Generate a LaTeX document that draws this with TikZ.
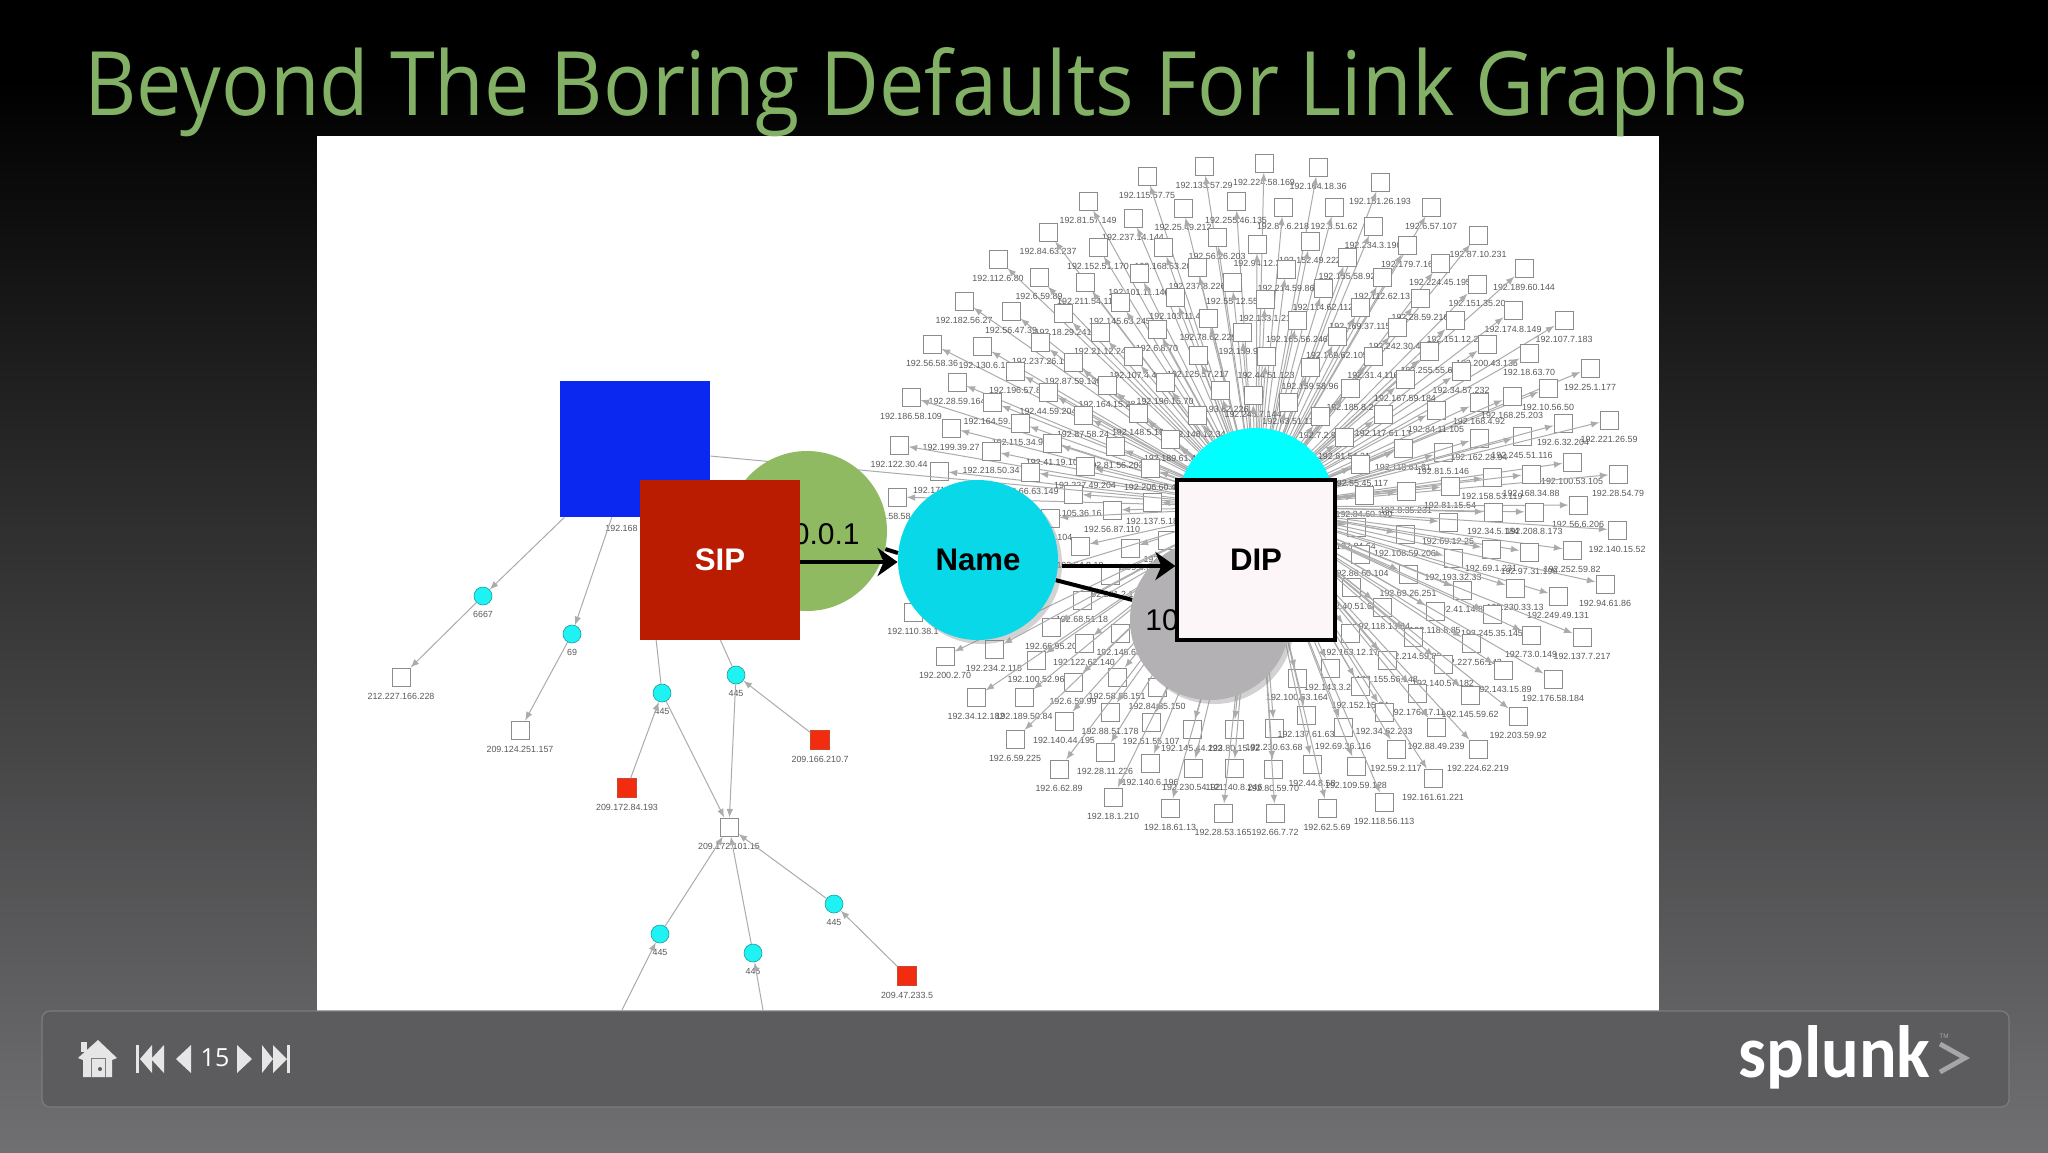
\documentclass[tikz,border=0pt]{standalone}
\usepackage{fontspec}
\usepackage{graphicx}
\setmainfont{Liberation Sans}
\newfontfamily\titlefont{Open Sans}
\newfontfamily\footfont{Open Sans}
\newfontfamily\logofont{Carlito}
\usetikzlibrary{positioning,shadows,arrows.meta}
\definecolor{titlegreen}{HTML}{82B064}
\definecolor{barfill}{HTML}{5C5B5E}
\definecolor{barline}{HTML}{7C7C7E}
\definecolor{pagegrey}{HTML}{707072}
\definecolor{fanline}{HTML}{ABABAB}
\definecolor{fanedge}{HTML}{8C8C8C}
\definecolor{fantext}{HTML}{5A5A5A}
\definecolor{sipred}{HTML}{B91C00}
\definecolor{hotred}{HTML}{F22C0E}
\definecolor{blockblue}{HTML}{0B28F0}
\definecolor{namecyan}{HTML}{08D8E8}
\definecolor{hubcyan}{HTML}{00FFFF}
\definecolor{dotcyan}{HTML}{1FF2F2}
\definecolor{dotedge}{HTML}{1C9C9C}
\definecolor{circgreen}{HTML}{90BA62}
\definecolor{circgrey}{HTML}{B3B1B4}
\definecolor{dipfill}{HTML}{FCF6F9}
\definecolor{navwhite}{HTML}{E6E6E6}
\definecolor{logogrey}{HTML}{A6A6A6}
\tikzset{
  fanbox/.style={draw=fanedge,fill=white,line width=0.5pt,minimum size=9pt,inner sep=0pt},
  fanlabel/.style={text=fantext,font=\fontsize{4.45}{5}\selectfont,inner sep=0pt},
  fanarrow/.style={fanline,line width=0.5pt,-latex},
  hotbox/.style={draw=sipred!80,fill=hotred,line width=0.3pt,minimum size=9.5pt,inner sep=0pt},
  portdot/.style={circle,draw=dotedge,fill=dotcyan,line width=0.3pt,minimum size=9pt,inner sep=0pt},
  bigcirc/.style={circle,minimum size=80pt,inner sep=0pt},
  bigshadow/.style={drop shadow={shadow xshift=2pt,shadow yshift=-2pt,opacity=0.35}},
  bigbox/.style={minimum size=80pt,inner sep=0pt},
  bigtext/.style={font=\fontsize{15.6}{18}\selectfont\bfseries},
  flowarrow/.style={black,line width=2pt,-{Stealth[length=10pt,width=14pt,inset=3pt]}},
  navtip/.style={fill=navwhite,draw=none},
}
\begin{document}
\begin{tikzpicture}[x=0.5pt,y=-0.5pt]
\useasboundingbox (0,0) rectangle (2048,1152);
% page and panels
\fill[black] (0,0) rectangle (2048,81);
\shade[top color=black,bottom color=pagegrey] (0,80) rectangle (2048,1152);
\fill[white] (317,136) rectangle (1659,1011);
\node[anchor=base west,inner sep=0pt,text=titlegreen] (titletext) at (84,115)
  {\resizebox{832pt}{34pt}{\titlefont Beyond The Boring Defaults For Link Graphs}};

% the fan of hosts
\coordinate (hub) at (1256,507);
\foreach \hx/\hy/\ip [count=\n] in {
1204/166/192.133.57.29, 1264/163/192.224.58.169, 1318/167/192.164.18.36, 1147/176/192.115.57.75,
1380/182/192.151.26.193, 1088/201/192.81.57.149, 1183/208/192.25.49.212, 1236/201/192.255.46.135,
1283/207/192.87.6.218, 1334/207/192.3.51.62, 1431/207/192.6.57.107, 1133/218/192.237.14.144,
1373/226/192.234.3.190, 1217/237/192.56.26.203, 1048/232/192.84.63.237, 1098/247/192.152.51.170,
1163/247/192.168.53.20, 1257/244/192.94.12.3, 1310/241/192.152.49.222, 1407/245/192.179.7.16,
1478/235/192.87.10.231, 1347/257/192.155.58.92, 998/259/192.112.6.80, 1197/267/192.237.8.226,
1139/273/192.101.11.146, 1286/269/192.214.59.86, 1440/263/192.224.45.195, 1382/277/192.112.62.13,
1039/277/192.6.59.89, 1085/282/192.211.54.11, 1232/282/192.55.12.55, 1323/288/192.114.62.112,
1524/268/192.189.60.144, 1477/284/192.151.35.20, 964/301/192.182.56.27, 1120/302/192.145.63.245,
1175/297/192.103.11.4, 1265/299/192.133.1.21, 1420/298/192.28.59.216, 1360/307/192.169.37.115,
1011/311/192.56.47.39, 1063/313/192.18.29.241, 1208/318/192.78.62.229, 1297/320/192.165.56.246,
1455/320/192.151.12.27, 1513/310/192.174.8.149, 1564/320/192.107.7.183, 1100/332/192.21.12.24,
1157/329/192.6.8.70, 1242/332/192.159.9.1, 1397/327/192.242.30.45, 1337/336/192.169.62.105,
932/344/192.56.58.36, 982/346/192.130.6.1, 1040/342/192.237.26.11, 1487/344/192.200.43.135,
1429/351/192.255.55.68, 1133/356/192.107.4.4, 1198/355/192.125.57.217, 1266/356/192.44.51.123,
1529/353/192.18.63.70, 1373/356/192.31.4.116, 1073/362/192.87.59.136, 1015/371/192.196.57.8,
1310/367/192.159.58.96, 1461/371/192.34.57.232, 957/382/192.28.59.164, 1405/379/192.167.59.184,
1590/368/192.25.1.177, 1107/385/192.164.15.28, 1165/382/192.196.15.70, 1220/390/192.93.62.226,
1048/392/192.44.59.204, 1350/388/192.185.8.2, 1548/388/192.10.56.50, 911/397/192.186.58.109,
992/402/192.164.59.59, 1253/395/192.245.7.144, 1288/402/192.63.51.11, 1138/413/192.148.5.19,
1083/415/192.87.58.24, 1197/415/192.148.12.34, 1320/416/192.7.2.92, 1383/414/192.117.61.13,
1436/410/192.84.11.105, 1479/402/192.168.4.92, 1512/396/192.168.25.203, 1020/423/192.115.34.90,
951/428/192.199.39.27, 899/445/192.122.30.44, 991/451/192.218.50.34, 1052/443/192.41.19.10,
1115/446/192.81.56.203, 1170/439/192.189.61.4, 1344/437/192.81.54.21, 1403/448/192.118.61.61,
1443/452/192.81.5.146, 1479/438/192.162.28.94, 1522/436/192.245.51.116, 1563/423/192.6.32.204,
1609/420/192.221.26.59, 939/471/192.171.8.12, 1030/472/192.66.63.149, 1085/466/192.227.49.204,
1150/468/192.206.60.4, 1360/464/192.55.45.117, 1572/462/192.100.53.105, 1618/474/192.28.54.79,
1492/477/192.158.53.119, 1531/474/192.168.34.88, 1450/486/192.81.15.54, 1406/491/192.8.35.231,
1364/495/192.84.60.190, 897/497/192.58.58.27, 1073/494/192.105.36.16, 1112/510/192.56.87.110,
1152/502/192.137.5.18, 1050/518/192.15.104, 1578/505/192.56.6.206, 1534/512/192.208.8.173,
1493/512/192.34.5.184, 1448/522/192.69.12.25, 1617/530/192.140.15.52, 1405/534/192.108.59.206,
1356/527/192.84.64, 1572/550/192.252.59.82, 1529/552/192.97.31.190, 1491/549/192.69.1.231,
1453/558/192.193.32.33, 1360/554/192.86.60.104, 1080/546/192.54.8.19, 1130/548/192.99.2.6,
1167/540/192.47.1.25, 1110/575/192.221.2.1, 1082/600/192.68.51.18, 913/612/192.110.38.1,
1051/627/192.66.95.20, 1120/633/192.148.6.1, 1084/643/192.122.62.140, 1408/574/192.69.26.251,
1605/584/192.94.61.86, 1558/596/192.249.49.131, 1515/588/192.230.33.13, 1462/590/192.41.14.88,
1351/587/192.40.51.68, 1435/611/192.118.8.85, 1382/607/192.118.13.84, 1492/614/192.245.35.145,
1350/633/192.163.12.17, 1413/637/192.214.59.82, 1531/635/192.73.0.149, 1582/637/192.137.7.217,
1471/643/192.227.56.143, 1387/660/192.155.56.148, 1443/664/192.140.57.182, 1503/670/192.143.15.89,
1553/679/192.176.58.184, 1330/668/192.143.3.22, 1360/686/192.152.15.34, 1417/693/192.176.17.11,
1470/695/192.145.59.62, 945/656/192.200.2.70, 994/649/192.234.2.115, 1036/660/192.100.52.96,
1073/682/192.6.59.99, 1117/677/192.58.36.151, 976/697/192.34.12.182, 1024/697/192.189.50.84,
1157/687/192.84.85.150, 1110/712/192.88.51.178, 1064/721/192.140.44.195, 1151/722/192.51.55.107,
1015/739/192.6.59.225, 1192/729/192.145.44.223, 1234/729/192.80.15.92, 1274/728/192.230.63.68,
1297/678/192.100.63.164, 1306/715/192.137.61.63, 1343/727/192.69.36.116, 1384/712/192.34.62.233,
1436/727/192.88.49.239, 1478/749/192.224.62.219, 1396/749/192.59.2.117, 1518/716/192.203.59.92,
1105/752/192.28.11.226, 1059/769/192.6.62.89, 1150/763/192.140.6.196, 1193/768/192.230.54.121,
1234/768/192.140.8.246, 1273/769/192.80.59.70, 1312/764/192.44.8.58, 1356/766/192.109.59.128,
1433/778/192.161.61.221, 1384/802/192.118.56.113, 1327/808/192.62.5.69, 1275/813/192.66.7.72,
1223/813/192.28.53.165, 1170/808/192.18.61.13, 1113/797/192.18.1.210}
  {
  \node[fanbox] (ip\n) at (\hx,\hy) {};
  \node[fanlabel,below=3pt of ip\n] (iptext\n) {\ip};
  \draw[fanarrow] (hub) -- (ip\n);
  }

% the small graph on the left
\node[fanbox] (farA) at (401,677) {};
\node[fanlabel,below=3pt of farA] (farAtext) {212.227.166.228};
\node[fanbox] (farB) at (520,730) {};
\node[fanlabel,below=3pt of farB] (farBtext) {209.124.251.157};
\node[fanbox] (farC) at (729,827) {};
\node[fanlabel,below=3pt of farC] (farCtext) {209.172.101.15};
\node[hotbox] (hotA) at (820,740) {};
\node[fanlabel,below=3pt of hotA] (hotAtext) {209.166.210.7};
\node[hotbox] (hotB) at (627,788) {};
\node[fanlabel,below=3pt of hotB] (hotBtext) {209.172.84.193};
\node[hotbox] (hotC) at (907,976) {};
\node[fanlabel,below=3pt of hotC] (hotCtext) {209.47.233.5};
\node[bigbox,minimum width=75pt,minimum height=68pt,fill=blockblue] (bluebox) at (635,449) {};
\node[fanlabel,anchor=west] (bluetext) at (605,528) {192.168};
\foreach \px/\py/\port/\tag in {483/596/6667/six, 572/634/69/nine, 662/693/445/a, 736/675/445/b,
    834/904/445/c, 660/934/445/d, 753/953/445/e}
  {
  \node[portdot] (port\tag) at (\px,\py) {};
  \node[fanlabel,below=3pt of port\tag] (text\tag) {\port};
  }
\coordinate (cutleft) at (622,1010);
\coordinate (cutright) at (763,1010);
\foreach \from/\to in {bluebox/portsix, bluebox/portnine, portsix/farA, portnine/farB,
    hotA/portb, hotB/porta, porta/farC, portb/farC, portc/farC, portd/farC, porte/farC,
    hotC/portc, cutleft/portd, cutright/porte}
  \draw[fanarrow] (\from) -- (\to);
\foreach \to in {porta, portb, hub}
  \draw[fanline,line width=0.5pt] (bluebox) -- (\to);

% the big shapes
\node[bigcirc,fill=circgreen] (greencirc) at (807,531) {};
\node[anchor=east,inner sep=0pt,font=\fontsize{15}{18}\selectfont] (greentext) at (860,534) {0.0.1};
\node[bigcirc,fill=circgrey,bigshadow] (greycirc) at (1210,620) {};
\node[anchor=west,inner sep=0pt,font=\fontsize{15}{18}\selectfont] (greytext) at (1145,620) {10};
\node[bigcirc,minimum size=79pt,fill=hubcyan] (topcirc) at (1256,507) {};
\node[bigbox,fill=sipred,text=white,bigtext] (sipbox) at (720,560) {SIP};
\node[bigcirc,fill=namecyan,bigshadow,bigtext] (namecirc) at (978,560) {Name};
\node[bigbox,draw=black,line width=1.6pt,fill=dipfill,minimum width=79pt,bigtext] (dipbox) at (1256,560) {DIP};
\draw[black,line width=2pt] (greencirc.-13) -- (namecirc.175);
\draw[flowarrow] ([yshift=-1pt]sipbox.east) -- ([yshift=-1pt]namecirc.west);
\draw[flowarrow,shorten <=2pt] ([yshift=-3pt]namecirc.east) -- ([yshift=-3pt]dipbox.west);
\draw[black,line width=2pt] (namecirc) -- (greycirc);

% the bar at the bottom
\draw[barline,fill=barfill,rounded corners=4pt,line width=0.6pt] (42,1011) rectangle (2009,1107);
% house
\fill[navtip] (78,1058) -- (98,1040) -- (117,1058) -- (112,1060) -- (112,1077) -- (83,1077) -- (83,1060) -- cycle;
\fill[navtip] (81,1042) rectangle (87,1052);
\draw[barfill!80,line width=0.3pt] (91,1077) -- (91,1058) -- (105,1058) -- (105,1077);
\fill[barfill] (100,1069) circle (1pt);
% arrows
\fill[navtip] (136,1045) rectangle (139,1073);
\foreach \tipx/\basex in {140/152, 151/164, 176/191, 252/237, 273/262, 287/273}
  \fill[navtip] (\tipx,1059) -- (\basex,1045) -- (\basex,1073) -- cycle;
\fill[navtip] (287,1045) rectangle (290,1073);
\node[text=white,font=\footfont\fontsize{12.5}{14}\selectfont,inner sep=0pt] (pagenum) at (215,1058) {15};
% logo
\node[anchor=base west,inner sep=0pt,text=white] (logotext) at (1738,1077)
  {\resizebox{96pt}{26pt}{\logofont\bfseries splunk}};
\draw[logogrey,line width=2.4pt] (1940,1044) -- (1965,1058) -- (1940,1072);
\node[text=logogrey,font=\fontsize{3.2}{4}\selectfont,inner sep=0pt] (logotm) at (1944,1036) {TM};
\end{tikzpicture}
\end{document}
